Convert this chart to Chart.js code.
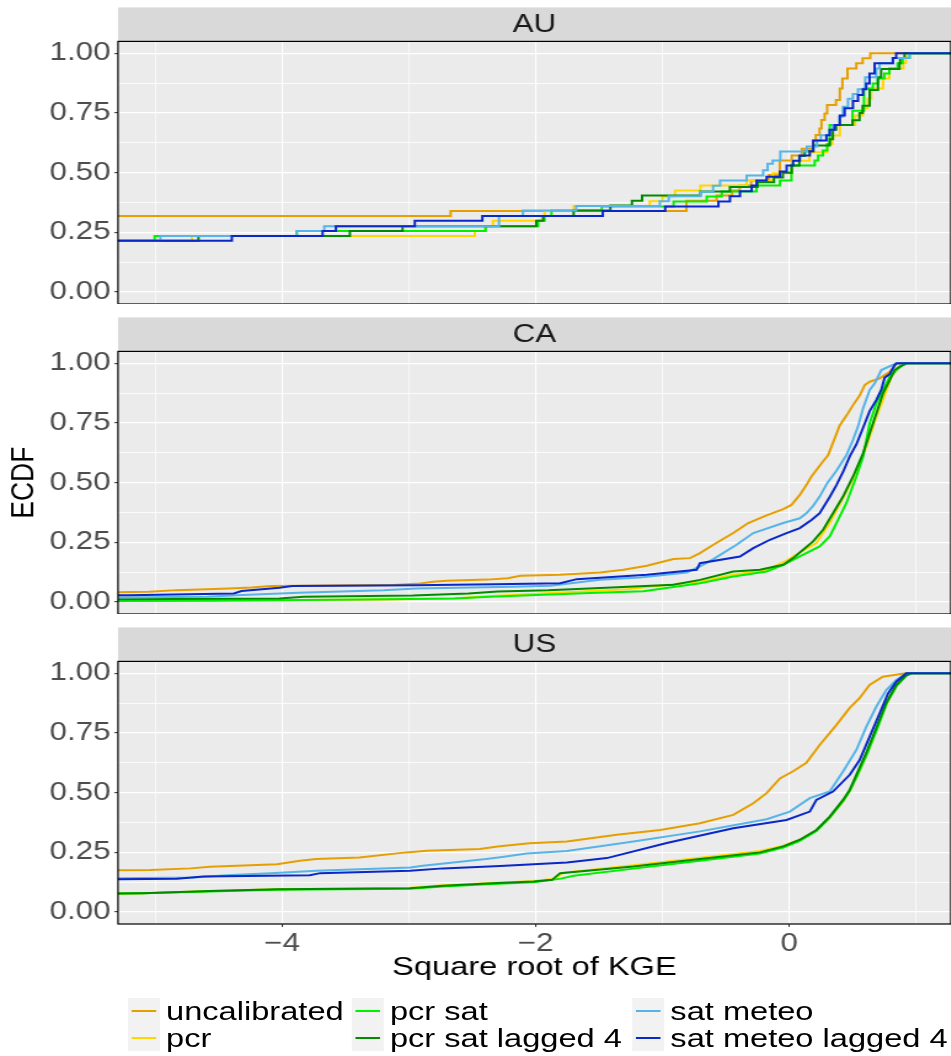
<!DOCTYPE html>
<html>
<head>
<meta charset="utf-8">
<script src="https://cdn.jsdelivr.net/npm/chart.js@4.4.1/dist/chart.umd.min.js"></script>
<style>
  html, body { margin: 0; padding: 0; background: #fff; }
  #page { position: absolute; left: 0; top: 0; width: 773px; height: 1056px;
          transform: scaleX(1.23); transform-origin: 0 0;
          font-family: 'Liberation Sans', Arial, sans-serif; }
  canvas { position: absolute; left: 0; }
  .col { position: absolute; top: 998px; }
  .item { display: flex; align-items: center; height: 26.7px; }
  .key { width: 26px; height: 26.7px; background: #F2F2F2; position: relative; flex: none; }
  .key span { position: absolute; left: 3px; right: 3px; top: 12.4px; height: 2px; }
  .lab { font-size: 26.5px; color: #000; margin-left: 5px; white-space: nowrap; line-height: 26.7px; }
</style>
</head>
<body>
<div id="page">
  <canvas id="au" width="773" height="304" style="top:0px;width:773px;height:304px"></canvas>
  <canvas id="ca" width="773" height="304" style="top:310px;width:773px;height:304px"></canvas>
  <canvas id="us" width="773" height="366" style="top:620px;width:773px;height:366px"></canvas>
  <div id="legend"></div>
</div>
<script>
// series
const seriesNames = ['uncalibrated', 'pcr', 'pcr sat', 'pcr sat lagged 4', 'sat meteo', 'sat meteo lagged 4'];
const seriesColors = ['#E69F00', '#FFD700', '#00F000', '#008B00', '#56B4E9', '#0A28C8'];

// axis ticks
const xTickValues = [-4, -2, 0];
const xTickLabels = ['\u22124', '\u22122', '0'];
const xMinorValues = [-5, -3, -1, 1];
const yTickValues = [0, 0.25, 0.5, 0.75, 1];
const yTickLabels = ['0.00', '0.25', '0.50', '0.75', '1.00'];
const yMinorValues = [0.125, 0.375, 0.625, 0.875];
const X_MIN = -5.294, X_MAX = 1.275;

// ECDF level left of the first visible step, per series
const auStart = [0.319, 0.215, 0.215, 0.215, 0.215, 0.215];
const caStart = [0.036, 0.003, 0.002, 0.010, 0.015, 0.022];
const usStart = [0.173, 0.070, 0.070, 0.070, 0.135, 0.132];

// AU: [square root of KGE, ECDF]
const auUncalibrated = [[-2.67,0.340],[-0.81,0.383],[-0.572,0.404],[-0.45,0.425],[-0.39,0.446],[-0.30,0.467],[-0.16,0.49],[-0.074,0.551],[0.02,0.572],[0.10,0.60],[0.19,0.635],[0.21,0.658],[0.24,0.685],[0.255,0.721],[0.28,0.748],[0.30,0.784],[0.37,0.805],[0.40,0.853],[0.42,0.895],[0.46,0.937],[0.53,0.958],[0.58,0.979],[0.64,1.0]];
const auPcr = [[-4.711,0.235],[-2.48,0.256],[-2.40,0.276],[-2.336,0.299],[-1.95,0.319],[-1.93,0.34],[-1.70,0.36],[-1.10,0.38],[-1.00,0.40],[-0.90,0.425],[-0.70,0.446],[-0.335,0.467],[-0.13,0.498],[0.02,0.55],[0.16,0.586],[0.30,0.62],[0.34,0.656],[0.40,0.70],[0.52,0.74],[0.58,0.77],[0.62,0.81],[0.647,0.853],[0.74,0.895],[0.79,0.937],[0.90,0.96],[0.92,1.0]];
const auPcrSat = [[-5.005,0.235],[-3.884,0.256],[-2.394,0.276],[-1.98,0.299],[-1.93,0.319],[-1.875,0.342],[-1.478,0.358],[-0.912,0.379],[-0.65,0.40],[-0.532,0.421],[-0.257,0.446],[-0.073,0.467],[0.018,0.53],[0.202,0.551],[0.228,0.572],[0.267,0.593],[0.30,0.62],[0.32,0.70],[0.50,0.76],[0.59,0.853],[0.66,0.874],[0.70,0.895],[0.75,0.916],[0.79,0.937],[0.855,0.958],[0.895,0.98],[0.95,1.0]];
const auPcrSatLagged = [[-4.659,0.235],[-3.465,0.256],[-3.05,0.276],[-1.995,0.299],[-1.94,0.319],[-1.70,0.342],[-1.41,0.363],[-1.24,0.383],[-1.16,0.404],[-0.70,0.421],[-0.467,0.44],[-0.25,0.46],[-0.12,0.48],[-0.05,0.50],[0.02,0.53],[0.08,0.57],[0.123,0.59],[0.19,0.614],[0.32,0.64],[0.345,0.68],[0.37,0.70],[0.50,0.72],[0.555,0.75],[0.58,0.78],[0.635,0.846],[0.70,0.90],[0.725,0.934],[0.87,0.958],[0.875,0.98],[0.91,1.0]];
const auSatMeteo = [[-4.96,0.235],[-3.884,0.256],[-3.667,0.276],[-2.289,0.319],[-2.1,0.342],[-1.68,0.36],[-1.02,0.38],[-0.95,0.401],[-0.70,0.42],[-0.60,0.445],[-0.545,0.467],[-0.335,0.488],[-0.205,0.51],[-0.17,0.537],[-0.13,0.551],[-0.07,0.589],[0.14,0.61],[0.22,0.635],[0.25,0.657],[0.32,0.68],[0.346,0.70],[0.398,0.734],[0.425,0.776],[0.464,0.81],[0.503,0.83],[0.543,0.85],[0.60,0.90],[0.687,0.937],[0.713,0.958],[0.818,0.98],[0.949,1.0]];
const auSatMeteoLagged = [[-4.396,0.235],[-3.68,0.256],[-3.575,0.276],[-2.953,0.299],[-2.42,0.319],[-1.47,0.340],[-0.978,0.358],[-0.558,0.379],[-0.467,0.401],[-0.388,0.422],[-0.296,0.446],[-0.257,0.467],[-0.178,0.483],[-0.073,0.505],[-0.02,0.53],[0.031,0.55],[0.084,0.572],[0.163,0.59],[0.19,0.635],[0.294,0.657],[0.32,0.68],[0.359,0.70],[0.40,0.74],[0.438,0.77],[0.503,0.80],[0.543,0.825],[0.582,0.85],[0.608,0.874],[0.634,0.916],[0.674,0.958],[0.818,0.98],[0.844,1.0]];

// CA
const caUncalibrated = [[-5.05,0.043],[-4.83,0.05],[-4.42,0.057],[-4.24,0.061],[-4.09,0.067],[-3.12,0.071],[-2.91,0.078],[-2.81,0.085],[-2.70,0.089],[-2.38,0.094],[-2.22,0.10],[-2.12,0.11],[-1.806,0.114],[-1.491,0.124],[-1.307,0.135],[-1.123,0.152],[-0.913,0.180],[-0.782,0.184],[-0.703,0.205],[-0.598,0.240],[-0.441,0.289],[-0.323,0.331],[-0.178,0.363],[-0.047,0.389],[0.018,0.407],[0.084,0.449],[0.136,0.49],[0.176,0.526],[0.268,0.59],[0.307,0.615],[0.399,0.74],[0.451,0.78],[0.504,0.825],[0.556,0.865],[0.596,0.909],[0.635,0.923],[0.714,0.937],[0.793,0.965],[0.845,0.997],[0.911,1.0]];
const caPcr = [[-4.72,0.007],[-3.18,0.011],[-2.65,0.015],[-2.45,0.022],[-2.3,0.026],[-1.281,0.054],[-0.703,0.086],[-0.441,0.114],[-0.178,0.135],[-0.021,0.174],[0.084,0.208],[0.215,0.247],[0.320,0.331],[0.425,0.435],[0.504,0.519],[0.609,0.651],[0.688,0.777],[0.740,0.847],[0.806,0.944],[0.871,0.986],[0.924,1.0]];
const caPcrSat = [[-4.53,0.006],[-3.37,0.011],[-2.64,0.015],[-2.36,0.022],[-1.570,0.038],[-1.150,0.045],[-0.703,0.079],[-0.441,0.107],[-0.178,0.128],[-0.047,0.156],[0.084,0.191],[0.241,0.233],[0.320,0.275],[0.373,0.331],[0.451,0.414],[0.530,0.526],[0.583,0.609],[0.635,0.749],[0.688,0.833],[0.740,0.888],[0.793,0.944],[0.845,0.972],[0.898,0.993],[0.937,1.0]];
const caPcrSatLagged = [[-4.02,0.015],[-3.83,0.022],[-2.97,0.028],[-2.53,0.036],[-2.3,0.044],[-1.9,0.049],[-1.491,0.059],[-0.913,0.073],[-0.703,0.093],[-0.441,0.128],[-0.231,0.135],[-0.047,0.156],[0.031,0.184],[0.110,0.219],[0.189,0.254],[0.268,0.303],[0.346,0.372],[0.425,0.442],[0.504,0.526],[0.583,0.623],[0.635,0.707],[0.688,0.791],[0.740,0.874],[0.793,0.930],[0.832,0.972],[0.871,0.986],[0.924,1.0]];
const caSatMeteo = [[-4.59,0.022],[-4.36,0.029],[-3.87,0.039],[-3.2,0.05],[-2.94,0.057],[-2.18,0.064],[-1.885,0.068],[-1.491,0.093],[-1.176,0.103],[-0.808,0.124],[-0.703,0.149],[-0.598,0.180],[-0.415,0.240],[-0.283,0.289],[-0.047,0.331],[0.084,0.351],[0.136,0.372],[0.189,0.403],[0.241,0.442],[0.300,0.498],[0.373,0.550],[0.451,0.615],[0.504,0.680],[0.543,0.735],[0.583,0.812],[0.635,0.888],[0.675,0.916],[0.727,0.972],[0.819,0.994],[0.871,1.0]];
const caSatMeteoLagged = [[-5.21,0.029],[-4.38,0.036],[-4.32,0.046],[-4.02,0.06],[-3.92,0.067],[-2.95,0.07],[-2.32,0.075],[-1.806,0.079],[-1.675,0.096],[-1.123,0.114],[-0.730,0.135],[-0.703,0.163],[-0.388,0.191],[-0.283,0.226],[-0.152,0.261],[-0.021,0.289],[0.084,0.310],[0.176,0.344],[0.241,0.372],[0.320,0.440],[0.373,0.490],[0.425,0.545],[0.478,0.610],[0.530,0.660],[0.583,0.730],[0.635,0.800],[0.688,0.847],[0.727,0.890],[0.753,0.940],[0.793,0.955],[0.832,0.993],[0.845,1.0]];

// US
const usUncalibrated = [[-5.04,0.176],[-4.72,0.183],[-4.57,0.19],[-4.04,0.20],[-3.86,0.215],[-3.73,0.222],[-3.39,0.229],[-3.02,0.25],[-2.86,0.257],[-2.44,0.264],[-2.30,0.275],[-2.05,0.288],[-1.753,0.296],[-1.36,0.324],[-1.018,0.344],[-0.703,0.372],[-0.441,0.407],[-0.283,0.456],[-0.178,0.498],[-0.073,0.56],[0.031,0.59],[0.136,0.625],[0.241,0.70],[0.372,0.783],[0.476,0.854],[0.555,0.896],[0.634,0.951],[0.738,0.986],[0.92,1.0]];
const usPcr = [[-5.10,0.079],[-4.57,0.088],[-4.04,0.096],[-2.99,0.102],[-2.73,0.112],[-2.34,0.122],[-2.016,0.13],[-1.85,0.14],[-1.78,0.165],[-1.228,0.196],[-0.703,0.228],[-0.231,0.256],[-0.047,0.278],[0.084,0.303],[0.215,0.342],[0.320,0.395],[0.425,0.462],[0.476,0.505],[0.54,0.575],[0.62,0.67],[0.69,0.77],[0.77,0.875],[0.85,0.95],[0.92,0.99],[0.96,1.0]];
const usPcrSat = [[-5.10,0.079],[-4.57,0.086],[-4.04,0.093],[-2.99,0.098],[-2.73,0.107],[-2.34,0.118],[-2.016,0.125],[-1.80,0.14],[-1.70,0.152],[-1.228,0.182],[-0.703,0.215],[-0.231,0.245],[-0.047,0.270],[0.084,0.298],[0.215,0.34],[0.320,0.395],[0.425,0.465],[0.48,0.51],[0.54,0.575],[0.62,0.67],[0.696,0.77],[0.77,0.875],[0.85,0.95],[0.925,0.99],[0.965,1.0]];
const usPcrSatLagged = [[-5.10,0.079],[-4.57,0.088],[-4.04,0.096],[-2.99,0.10],[-2.73,0.11],[-2.34,0.121],[-2.016,0.128],[-1.87,0.135],[-1.806,0.163],[-1.228,0.191],[-0.703,0.222],[-0.231,0.250],[-0.047,0.275],[0.084,0.303],[0.215,0.344],[0.320,0.400],[0.425,0.47],[0.476,0.51],[0.53,0.575],[0.61,0.67],[0.686,0.77],[0.764,0.875],[0.843,0.95],[0.92,0.99],[0.96,1.0]];
const usSatMeteo = [[-4.70,0.145],[-4.44,0.154],[-4.09,0.163],[-3.73,0.173],[-2.99,0.187],[-2.89,0.194],[-2.39,0.222],[-2.278,0.230],[-2.07,0.245],[-1.753,0.256],[-1.228,0.296],[-0.703,0.338],[-0.178,0.389],[0.005,0.421],[0.163,0.477],[0.320,0.505],[0.425,0.589],[0.530,0.679],[0.609,0.777],[0.688,0.861],[0.766,0.930],[0.845,0.972],[0.924,1.0]];
const usSatMeteoLagged = [[-4.83,0.14],[-4.62,0.149],[-3.78,0.154],[-3.70,0.163],[-2.99,0.173],[-2.73,0.183],[-2.28,0.193],[-1.753,0.208],[-1.438,0.226],[-0.966,0.289],[-0.441,0.351],[-0.021,0.386],[0.163,0.421],[0.215,0.470],[0.346,0.505],[0.478,0.575],[0.556,0.637],[0.635,0.735],[0.714,0.833],[0.780,0.916],[0.845,0.965],[0.924,1.0]];

const panels = [
  { id: 'au', label: 'AU', start: auStart, stepped: true,
    series: [auUncalibrated, auPcr, auPcrSat, auPcrSatLagged, auSatMeteo, auSatMeteoLagged] },
  { id: 'ca', label: 'CA', start: caStart, stepped: false,
    series: [caUncalibrated, caPcr, caPcrSat, caPcrSatLagged, caSatMeteo, caSatMeteoLagged] },
  { id: 'us', label: 'US', start: usStart, stepped: false,
    series: [usUncalibrated, usPcr, usPcrSat, usPcrSatLagged, usSatMeteo, usSatMeteoLagged] }
];

Chart.defaults.font.family = "'Liberation Sans', Arial, sans-serif";

const STRETCH = 1.23;
const PLOT_LEFT = 118 / STRETCH;

// grey panel, facet strip and black frame
const panelFrame = {
  id: 'panelFrame',
  beforeDraw(chart, args, opts) {
    const { ctx, chartArea: a } = chart;
    ctx.save();
    ctx.fillStyle = '#EBEBEB';
    ctx.fillRect(a.left, a.top, a.right - a.left, a.bottom - a.top);
    ctx.fillStyle = '#D9D9D9';
    ctx.fillRect(a.left, a.top - 34, a.right - a.left, 34);
    ctx.fillStyle = '#1A1A1A';
    ctx.font = "25.5px 'Liberation Sans', Arial, sans-serif";
    ctx.textAlign = 'center';
    ctx.textBaseline = 'middle';
    ctx.fillText(opts.label, (a.left + a.right) / 2, a.top - 16);
    ctx.restore();
  },
  afterDraw(chart) {
    const { ctx, chartArea: a } = chart;
    ctx.save();
    ctx.strokeStyle = '#000000';
    ctx.lineWidth = 1.2;
    ctx.strokeRect(a.left, a.top, a.right - a.left, a.bottom - a.top);
    ctx.restore();
  }
};

function toPoints(start, pts) {
  const data = [{ x: X_MIN - 1, y: start }];
  pts.forEach(p => data.push({ x: p[0], y: p[1] }));
  data.push({ x: X_MAX + 1, y: 1 });
  return data;
}

function tickList(major, minor) {
  return major.map(v => ({ value: v }))
    .concat(minor.map(v => ({ value: v, minor: true })))
    .sort((a, b) => a.value - b.value);
}

// keep tick labels from shrinking the plot area
function noLabelPadding(s) {
  s.paddingTop = 0; s.paddingBottom = 0; s.paddingLeft = 0; s.paddingRight = 0;
}

panels.forEach((p, k) => {
  const isBottom = k === panels.length - 1;
  const isMiddle = k === 1;
  const datasets = p.series.map((pts, i) => ({
    label: seriesNames[i],
    data: toPoints(p.start[i], pts),
    borderColor: seriesColors[i],
    borderWidth: 2,
    pointRadius: 0,
    stepped: p.stepped ? 'before' : false,
    tension: 0,
    fill: false,
    clip: 0,
    order: seriesNames.length - i
  }));

  new Chart(document.getElementById(p.id), {
    type: 'line',
    data: { datasets },
    plugins: [panelFrame],
    options: {
      responsive: false,
      animation: false,
      layout: { autoPadding: false, padding: { top: 41.4, left: 0, right: 0, bottom: 0 } },
      plugins: {
        legend: { display: false },
        tooltip: { enabled: false },
        panelFrame: { label: p.label }
      },
      scales: {
        x: {
          type: 'linear',
          min: X_MIN,
          max: X_MAX,
          bounds: 'data',
          border: { display: false },
          afterBuildTicks: s => { s.ticks = tickList(xTickValues, xMinorValues); },
          afterFit: s => { s.height = isBottom ? 62 : 0; noLabelPadding(s); },
          grid: {
            color: '#FFFFFF',
            lineWidth: c => (c.tick && c.tick.minor ? 0.7 : 1.1),
            drawTicks: isBottom,
            tickLength: 3,
            tickWidth: 1,
            tickColor: c => (c.tick && c.tick.minor ? 'rgba(0,0,0,0)' : '#333333')
          },
          ticks: {
            display: isBottom,
            autoSkip: false,
            maxRotation: 0,
            padding: 2,
            color: '#4D4D4D',
            font: { size: 25.5 },
            callback: (v, i, t) => (t[i].minor ? '' : xTickLabels[xTickValues.indexOf(t[i].value)])
          },
          title: {
            display: isBottom,
            text: 'Square root of KGE',
            color: '#000000',
            font: { size: 26.5 },
            padding: { top: 0, bottom: 2 }
          }
        },
        y: {
          type: 'linear',
          min: -0.05,
          max: 1.05,
          bounds: 'data',
          border: { display: false },
          afterBuildTicks: s => { s.ticks = tickList(yTickValues, yMinorValues); },
          afterFit: s => { s.width = PLOT_LEFT; noLabelPadding(s); },
          grid: {
            color: '#FFFFFF',
            lineWidth: c => (c.tick && c.tick.minor ? 0.8 : 1.3),
            drawTicks: true,
            tickLength: 3,
            tickWidth: 1,
            tickColor: c => (c.tick && c.tick.minor ? 'rgba(0,0,0,0)' : '#333333')
          },
          ticks: {
            autoSkip: false,
            padding: 3,
            color: '#4D4D4D',
            font: { size: 25.5 },
            callback: (v, i, t) => (t[i].minor ? '' : yTickLabels[yTickValues.indexOf(t[i].value)])
          },
          title: {
            display: isMiddle,
            text: 'ECDF',
            color: '#000000',
            font: { size: 26.5 },
            padding: { top: 4, bottom: 0 }
          }
        }
      }
    }
  });
});

// legend in ggplot layout: two rows, filled by column
const legendLefts = [104, 286, 514];
const legend = document.getElementById('legend');
legendLefts.forEach((left, c) => {
  const col = document.createElement('div');
  col.className = 'col';
  col.style.left = left + 'px';
  [0, 1].forEach(r => {
    const i = c * 2 + r;
    const item = document.createElement('div');
    item.className = 'item';
    const key = document.createElement('div');
    key.className = 'key';
    const dash = document.createElement('span');
    dash.style.background = seriesColors[i];
    key.appendChild(dash);
    const lab = document.createElement('div');
    lab.className = 'lab';
    lab.textContent = seriesNames[i];
    item.appendChild(key);
    item.appendChild(lab);
    col.appendChild(item);
  });
  legend.appendChild(col);
});
</script>
</body>
</html>
